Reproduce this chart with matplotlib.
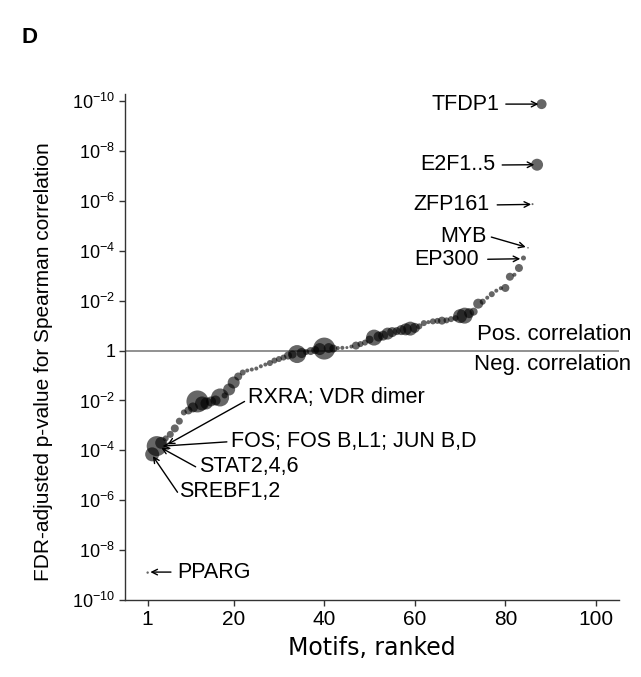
import numpy as np
import matplotlib
matplotlib.use('Agg')
import matplotlib.pyplot as plt

plt.rcParams['font.family'] = ['Liberation Sans', 'DejaVu Sans']
plt.rcParams['mathtext.fontset'] = 'custom'
plt.rcParams['mathtext.rm'] = 'Liberation Sans'
plt.rcParams['mathtext.it'] = 'Liberation Sans'

# signed -log10(FDR p): positive = pos. correlation, negative = neg. correlation
signed_logp = [
    -8.9, -4.16, -3.83, -3.7, -3.52, -3.36, -3.12, -2.83, -2.48, -2.4,
    -2.28, -2.04, -2.12, -2.12, -2.04, -2.0, -1.88, -1.8, -1.56, -1.28,
    -1.04, -0.88, -0.8, -0.76, -0.72, -0.63, -0.56, -0.5, -0.4, -0.34,
    -0.28, -0.2, -0.16, -0.14, -0.1, -0.06, -0.02, 0.02, 0.06, 0.08,
    0.1, 0.08, 0.1, 0.11, 0.12, 0.16, 0.2, 0.26, 0.32, 0.44,
    0.52, 0.56, 0.6, 0.68, 0.74, 0.78, 0.82, 0.85, 0.88, 0.91,
    0.97, 1.1, 1.14, 1.17, 1.19, 1.2, 1.21, 1.26, 1.3, 1.38,
    1.4, 1.5, 1.56, 1.88, 1.96, 2.12, 2.26, 2.4, 2.5, 2.51,
    2.96, 3.04, 3.31, 3.71, 4.12, 5.87, 7.45, 9.88,
]
# relative motif weight (marker radius)
motif_size = [
    1.2, 7, 10, 6, 3, 3.5, 4, 3.5, 3, 4,
    5, 11, 7, 6, 5, 5, 9, 3, 6, 6,
    4, 3, 2, 2, 2, 2, 2, 3, 3, 3,
    3, 4, 4, 9, 5, 3, 4, 4, 6, 11,
    5, 4, 2, 2, 1.5, 2, 4, 3, 3, 4,
    8, 5, 5, 6, 5, 4, 5, 6, 7, 5,
    3, 3, 2, 3, 3, 4, 3, 3, 3, 7,
    8, 5, 4, 5, 3, 2, 3, 2, 2, 4,
    4, 2, 4, 2.5, 0.8, 1, 6, 5,
]
rank = np.arange(1, len(signed_logp) + 1)

labels_pos = ['TFDP1', 'E2F1..5', 'ZFP161', 'MYB', 'EP300']
labels_neg = ['RXRA; VDR dimer', 'FOS; FOS B,L1; JUN B,D', 'STAT2,4,6', 'SREBF1,2', 'PPARG']

fig = plt.figure(figsize=(6.41, 6.77), dpi=100)
ax = fig.add_axes([0.195, 0.1137, 0.77, 0.748])

s = (1.44 * np.array(motif_size)) ** 2
ax.scatter(rank, signed_logp, s=s, color='black', alpha=0.6, linewidths=0, zorder=3)
ax.axhline(0, color='#888888', lw=1.3, zorder=1)

ax.set_xlim(-4, 105)
ax.set_ylim(-10, 10.3)
ax.set_xticks([1, 20, 40, 60, 80, 100])
yt = np.arange(-10, 11, 2)
ax.set_yticks(yt)
ax.set_yticklabels(['1' if v == 0 else r'$10^{-%d}$' % abs(v) for v in yt])
ax.tick_params(axis='both', direction='out', length=4, width=1, color='#333333')
ax.tick_params(axis='x', labelsize=15, pad=3)
ax.tick_params(axis='y', labelsize=13, pad=3)
for sp in ['top', 'right']:
    ax.spines[sp].set_visible(False)
for sp in ['left', 'bottom']:
    ax.spines[sp].set_color('#333333')
    ax.spines[sp].set_linewidth(1)

ax.set_xlabel('Motifs, ranked', fontsize=17, family='DejaVu Sans', labelpad=5)
ax.set_ylabel('FDR-adjusted p-value for Spearman correlation', fontsize=15)
ax.yaxis.set_label_coords(-0.145, 0.47)

fs = 15.5
# positive-side labels: text to the left, arrow pointing right
pos_text_xy = [(78.6, 9.88), (77.8, 7.44), (76.6, 5.84), (75.9, 4.58), (74.2, 3.66)]
pos_tail = [(80.1, 9.88), (79.3, 7.44), (78.2, 5.84), (76.9, 4.55), (76.1, 3.66)]
pos_head = [(87.3, 9.88), (86.4, 7.45), (85.7, 5.86), (84.5, 4.15), (83.3, 3.68)]
for lab, txy, tail, head in zip(labels_pos, pos_text_xy, pos_tail, pos_head):
    ax.text(txy[0], txy[1], lab, ha='right', va='center', fontsize=fs)
    ax.annotate('', xy=head, xytext=tail,
                arrowprops=dict(arrowstyle='->', color='black', lw=1, shrinkA=0, shrinkB=0))

neg_text_xy = [(23.2, -1.9), (19.3, -3.64), (12.3, -4.66), (8.0, -5.64), (7.5, -8.88)]
neg_tail = [(22.4, -2.04), (18.5, -3.66), (11.6, -4.66), (7.6, -5.68), (6.15, -8.88)]
neg_head = [(5.4, -3.76), (4.3, -3.83), (4.0, -3.9), (2.15, -4.23), (1.6, -8.88)]
for lab, txy, tail, head in zip(labels_neg, neg_text_xy, neg_tail, neg_head):
    ax.text(txy[0], txy[1], lab, ha='left', va='center', fontsize=fs)
    ax.annotate('', xy=head, xytext=tail,
                arrowprops=dict(arrowstyle='->', color='black', lw=1, shrinkA=0, shrinkB=0))

ax.text(107.8, 0.64, 'Pos. correlation', ha='right', va='center', fontsize=16)
ax.text(107.8, -0.56, 'Neg. correlation', ha='right', va='center', fontsize=16)

fig.text(0.034, 0.944, 'D', fontsize=16, fontweight='bold', va='center')

fig.savefig('out.png', dpi=100)
